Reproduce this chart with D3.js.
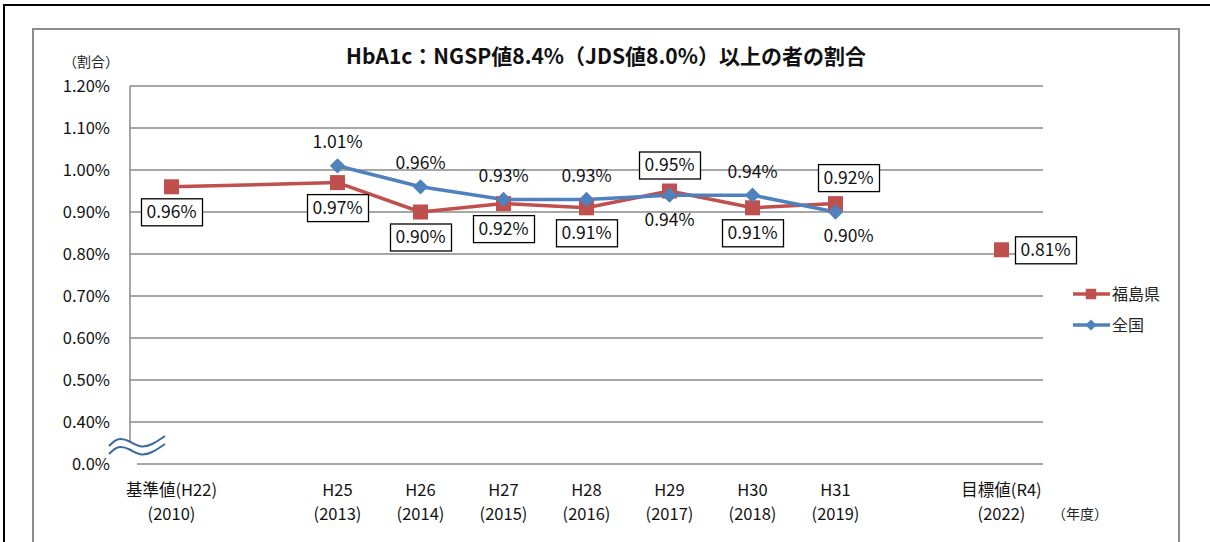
<!DOCTYPE html>
<html>
<head>
<meta charset="utf-8">
<script src="https://cdn.jsdelivr.net/npm/d3@7"></script>
<style>
  body { margin: 0; background: #fff; }
  svg { display: block; font-family: "Noto Sans CJK JP", "Noto Sans", sans-serif; }
</style>
</head>
<body>
<svg id="chart" width="1210" height="542"></svg>
<script>
// categories (two gap slots keep the spacing of the original sheet)
const categories = ["H22", "gap1", "H25", "H26", "H27", "H28", "H29", "H30", "H31", "gap2", "R4"];
const catLine1 = ["基準値(H22)", "", "H25", "H26", "H27", "H28", "H29", "H30", "H31", "", "目標値(R4)"];
const catLine2 = ["(2010)", "", "(2013)", "(2014)", "(2015)", "(2016)", "(2017)", "(2018)", "(2019)", "", "(2022)"];

// 福島県 (null = no value)
const fukushima = [0.96, null, 0.97, 0.90, 0.92, 0.91, 0.95, 0.91, 0.92, null, null];
const fukushimaTarget = [null, null, null, null, null, null, null, null, null, null, 0.81];
// 全国
const national = [null, null, 1.01, 0.96, 0.93, 0.93, 0.94, 0.94, 0.90, null, null];

// y axis is broken: the bottom tick stands for 0.0%
const yTickValues = [0.3, 0.4, 0.5, 0.6, 0.7, 0.8, 0.9, 1.0, 1.1, 1.2];
const yTickLabels = ["0.0%", "0.40%", "0.50%", "0.60%", "0.70%", "0.80%", "0.90%", "1.00%", "1.10%", "1.20%"];

const title = "HbA1c：NGSP値8.4%（JDS値8.0%）以上の者の割合";

// label placement (style only)
const fukLabelPos = ["below", null, "below", "below", "below", "below", "above", "below", "above", null, "right"];
const natLabelPos = [null, null, "above", "above", "above", "above", "below", "above", "below", null, null];

const red = "#C0504D", blue = "#4F81BD";

const svg = d3.select("#chart");
const plotLeft = 130, plotRight = 1043, plotTop = 86, plotBottom = 464;

const x = d3.scaleBand().domain(categories).range([plotLeft, plotRight]).padding(0);
const y = d3.scaleLinear().domain([0.3, 1.2]).range([plotBottom, plotTop]);
const cx = i => x(categories[i]) + x.bandwidth() / 2;

// borders
svg.append("rect").attr("x", 4).attr("y", 5).attr("width", 1220).attr("height", 560)
  .attr("fill", "none").attr("stroke", "#000").attr("stroke-width", 2);
svg.append("rect").attr("x", 33).attr("y", 29).attr("width", 1146).attr("height", 540)
  .attr("fill", "none").attr("stroke", "#8c8c8c").attr("stroke-width", 2);

// title
svg.append("text").attr("x", 606).attr("y", 64).attr("text-anchor", "middle")
  .attr("font-size", 21).attr("font-weight", "bold").attr("fill", "#111").text(title);

svg.append("text").attr("x", 91).attr("y", 67).attr("text-anchor", "middle")
  .attr("font-size", 14).attr("fill", "#222").text("（割合）");

// gridlines
svg.append("g").selectAll("line").data(yTickValues.slice(1)).join("line")
  .attr("x1", plotLeft).attr("x2", plotRight)
  .attr("y1", d => y(d)).attr("y2", d => y(d))
  .attr("stroke", "#8a8a8a").attr("stroke-width", 1.5);
// bottom axis line
svg.append("line").attr("x1", 137).attr("x2", plotRight).attr("y1", y(0.3)).attr("y2", y(0.3))
  .attr("stroke", "#8a8a8a").attr("stroke-width", 1.5);
// vertical axis (broken near the bottom)
svg.append("line").attr("x1", plotLeft).attr("x2", plotLeft).attr("y1", plotTop).attr("y2", 441)
  .attr("stroke", "#8a8a8a").attr("stroke-width", 1.5);

// y tick labels
svg.append("g").selectAll("text").data(yTickValues).join("text")
  .attr("x", 110).attr("y", d => y(d)).attr("dy", "0.35em")
  .attr("text-anchor", "end").attr("font-size", 16.5).attr("fill", "#111")
  .text((d, i) => yTickLabels[i]);

// break mark
const wave = d3.line().curve(d3.curveBasis);
[0, 8].forEach(off => {
  svg.append("path")
    .attr("d", wave([[109, 446 + off], [118, 437 + off], [130, 441 + off], [140, 448 + off], [152, 445 + off], [165, 436 + off]]))
    .attr("fill", "none").attr("stroke", "#3E6A9E").attr("stroke-width", 2);
});

// x labels
const xl = svg.append("g").selectAll("g").data(categories).join("g")
  .attr("transform", (d, i) => `translate(${cx(i)},0)`);
xl.append("text").attr("y", 496).attr("text-anchor", "middle").attr("font-size", 16.5)
  .attr("fill", "#111").text((d, i) => catLine1[i]);
xl.append("text").attr("y", 520).attr("text-anchor", "middle").attr("font-size", 16.5)
  .attr("fill", "#111").text((d, i) => catLine2[i]);
svg.append("text").attr("x", 1080).attr("y", 519).attr("text-anchor", "middle")
  .attr("font-size", 14).attr("fill", "#222").text("（年度）");

// series
const pts = arr => arr.map((v, i) => ({ i, v })).filter(d => d.v != null);
const line = d3.line().x(d => cx(d.i)).y(d => y(d.v));

svg.append("path").datum(pts(fukushima)).attr("d", line)
  .attr("fill", "none").attr("stroke", red).attr("stroke-width", 3.5).attr("stroke-linejoin", "round");
svg.append("path").datum(pts(national)).attr("d", line)
  .attr("fill", "none").attr("stroke", blue).attr("stroke-width", 3.5).attr("stroke-linejoin", "round");

const sq = 15;
svg.append("g").selectAll("rect").data(pts(fukushima).concat(pts(fukushimaTarget))).join("rect")
  .attr("x", d => cx(d.i) - sq / 2).attr("y", d => y(d.v) - sq / 2)
  .attr("width", sq).attr("height", sq).attr("fill", red);

const diamond = d3.symbol().type(d3.symbolDiamond2).size(150);
svg.append("g").selectAll("path").data(pts(national)).join("path")
  .attr("transform", d => `translate(${cx(d.i)},${y(d.v)})`)
  .attr("d", diamond).attr("fill", blue);

// data labels
const fmt = v => v.toFixed(2) + "%";
const offset = (pos, i) => {
  const dx = i === 8 ? 13 : 0;
  if (pos === "above") return [dx, -26];
  if (pos === "below") return [dx, 25];
  return [44, 0];
};

// 福島県: boxed labels
const fLab = svg.append("g").selectAll("g")
  .data(pts(fukushima).concat(pts(fukushimaTarget))).join("g")
  .attr("transform", d => {
    const [dx, dy] = offset(fukLabelPos[d.i], d.i);
    return `translate(${cx(d.i) + dx},${y(d.v) + dy})`;
  });
fLab.append("rect").attr("x", -30).attr("y", -13).attr("width", 61).attr("height", 27)
  .attr("fill", "#fff").attr("stroke", "#000").attr("stroke-width", 1.3);
fLab.append("text").attr("text-anchor", "middle").attr("dy", "0.36em")
  .attr("font-size", 17.5).attr("fill", "#111").text(d => fmt(d.v));

// 全国: plain labels
svg.append("g").selectAll("text").data(pts(national)).join("text")
  .attr("x", d => cx(d.i) + offset(natLabelPos[d.i], d.i)[0])
  .attr("y", d => y(d.v) + (natLabelPos[d.i] === "above" ? -24 : 24))
  .attr("dy", "0.36em").attr("text-anchor", "middle")
  .attr("font-size", 17.5).attr("fill", "#111").text(d => fmt(d.v));

// legend
const legend = [{ name: "福島県", color: red, shape: "square" }, { name: "全国", color: blue, shape: "diamond" }];
const lg = svg.append("g").selectAll("g").data(legend).join("g")
  .attr("transform", (d, i) => `translate(1073,${294 + i * 31})`);
lg.append("line").attr("x1", 0).attr("x2", 37).attr("stroke", d => d.color).attr("stroke-width", 3.5);
lg.append("path")
  .attr("transform", "translate(18,0)")
  .attr("d", d => d.shape === "square"
    ? d3.symbol().type(d3.symbolSquare).size(110)()
    : d3.symbol().type(d3.symbolDiamond2).size(80)())
  .attr("fill", d => d.color);
lg.append("text").attr("x", 39).attr("dy", "0.36em").attr("font-size", 16)
  .attr("fill", "#222").text(d => d.name);
</script>
</body>
</html>
